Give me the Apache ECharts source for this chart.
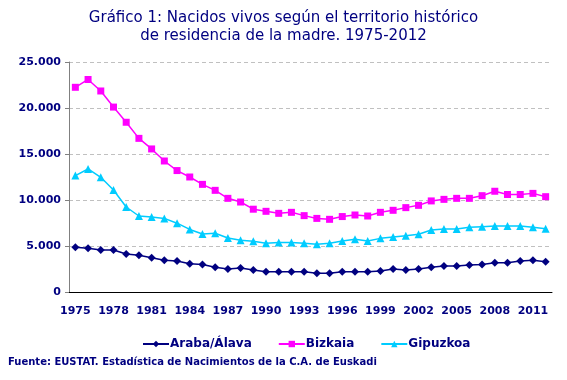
<!DOCTYPE html>
<html><head><meta charset="utf-8">
<script src="https://cdn.jsdelivr.net/npm/echarts@6/dist/echarts.min.js"></script>
<style>html,body{margin:0;padding:0;background:#fff}#c{width:567px;height:380px}</style>
</head><body><div id="c"></div>
<script>
const years = ['1975','1976','1977','1978','1979','1980','1981','1982','1983','1984','1985','1986','1987','1988','1989','1990','1991','1992','1993','1994','1995','1996','1997','1998','1999','2000','2001','2002','2003','2004','2005','2006','2007','2008','2009','2010','2011','2012'];
const araba = [4860,4750,4570,4570,4130,3990,3730,3440,3370,3080,3000,2680,2500,2610,2390,2210,2210,2210,2210,2030,2030,2210,2210,2210,2280,2500,2390,2500,2680,2830,2830,2930,3000,3190,3190,3370,3440,3300];
const bizkaia = [22250,23100,21850,20100,18450,16700,15550,14240,13200,12500,11700,11050,10180,9780,9000,8770,8550,8660,8300,8000,7900,8200,8370,8260,8660,8880,9170,9420,9900,10070,10180,10180,10470,10950,10600,10600,10720,10360];
const gipuzkoa = [12650,13370,12470,11090,9240,8260,8150,8000,7480,6800,6300,6380,5870,5620,5520,5290,5380,5380,5290,5200,5290,5540,5740,5540,5830,5970,6110,6270,6740,6850,6850,7030,7100,7170,7170,7170,7030,6880];
const seriesNames = ['Araba/Álava','Bizkaia','Gipuzkoa'];
const yTicks = {min:0, max:25000, interval:5000};

const navy = '#000080';
const fam = '"DejaVu Sans", Verdana, sans-serif';
const chart = echarts.init(document.getElementById('c'));
function fmt(v){ return String(v).replace(/\B(?=(\d{3})+(?!\d))/g,'.'); }
chart.setOption({
  animation:false,
  title:{
    text:'Gráfico 1: Nacidos vivos según el territorio histórico\nde residencia de la madre. 1975-2012',
    left:'center', top:4,
    textStyle:{color:navy, fontFamily:fam, fontSize:15, fontWeight:'normal', lineHeight:18}
  },
  graphic:[{type:'text', left:8, top:357, style:{text:'Fuente: EUSTAT. Estadística de Nacimientos de la C.A. de Euskadi', fill:navy, font:'bold 10px '+fam}}],
  legend:{
    data:seriesNames, top:333, left:137, itemWidth:26, itemHeight:8, itemGap:26,
    textStyle:{color:navy, fontFamily:fam, fontSize:12, fontWeight:'bold', padding:[0,0,0,-4]}
  },
  grid:{left:69, right:15, top:62, bottom:88},
  xAxis:{
    type:'category', data:years, boundaryGap:true,
    axisLine:{lineStyle:{color:'#000', width:1}},
    axisTick:{interval:2, length:4, lineStyle:{color:'#000'}},
    axisLabel:{interval:2, color:navy, fontFamily:fam, fontSize:11, fontWeight:'bold', margin:14}
  },
  yAxis:{
    type:'value', min:yTicks.min, max:yTicks.max, interval:yTicks.interval,
    axisLine:{show:true, lineStyle:{color:'#808080', width:1}},
    axisTick:{show:true, length:4, lineStyle:{color:'#808080'}},
    axisLabel:{color:navy, fontFamily:fam, fontSize:11, fontWeight:'bold', margin:8, formatter:fmt},
    splitLine:{lineStyle:{color:'#c0c0c0', type:[4,3], width:1}}
  },
  series:[
    {name:seriesNames[0], type:'line', data:araba, symbol:'diamond', symbolSize:8, showAllSymbol:true,
     itemStyle:{color:navy}, lineStyle:{color:navy, width:1.5}},
    {name:seriesNames[1], type:'line', data:bizkaia, symbol:'rect', symbolSize:7, showAllSymbol:true,
     itemStyle:{color:'#ff00ff'}, lineStyle:{color:'#ff00ff', width:1.5}},
    {name:seriesNames[2], type:'line', data:gipuzkoa, symbol:'triangle', symbolSize:8, showAllSymbol:true,
     itemStyle:{color:'#00ccff'}, lineStyle:{color:'#00ccff', width:1.5}}
  ]
});
</script></body></html>
